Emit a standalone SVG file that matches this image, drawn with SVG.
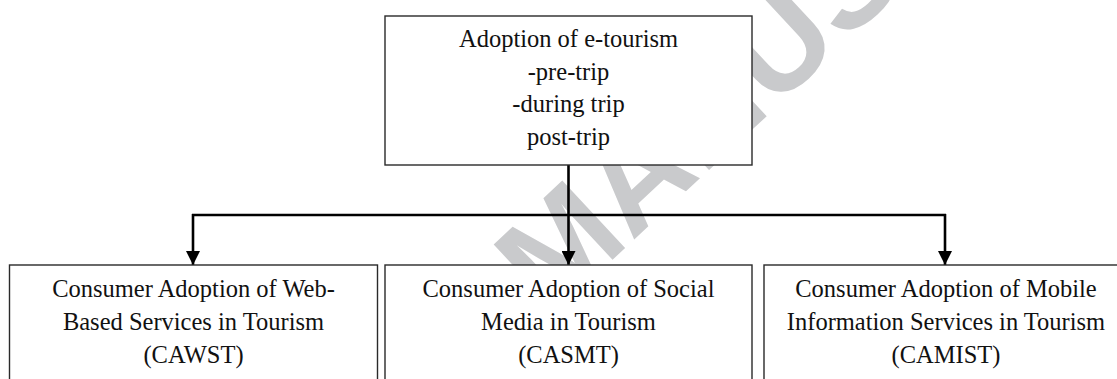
<svg xmlns="http://www.w3.org/2000/svg" width="1117" height="379" viewBox="0 0 1117 379">
  <defs>
    <style>
      .box { fill: #ffffff; stroke: #2a2a2a; stroke-width: 1.4; }
      .lbl { font-family: "Liberation Serif", "Times New Roman", serif; font-size: 24.5px; fill: #111111; text-anchor: middle; }
      .wire { fill: none; stroke: #000000; stroke-width: 2.6; }
      .wm { font-family: "Liberation Sans", Arial, sans-serif; font-weight: bold; font-size: 134px; fill: #c9cacc; }
    </style>
    <marker id="arrow" viewBox="0 0 14 14" refX="14" refY="7" markerWidth="14" markerHeight="14" markerUnits="userSpaceOnUse" orient="auto">
      <path d="M0,0 L14,7 L0,14 Z" fill="#000000"/>
    </marker>
  </defs>
  <rect width="1117" height="379" fill="#ffffff"/>
  <text class="wm" x="550" y="318" transform="rotate(-43 550 318)">MANUSCRIPT</text>

  <g id="connectors">
    <line class="wire" x1="568.5" y1="165" x2="568.5" y2="215"/>
    <line class="wire" x1="192" y1="215" x2="946" y2="215"/>
    <line class="wire" x1="193" y1="214" x2="193" y2="265" marker-end="url(#arrow)"/>
    <line class="wire" x1="568.5" y1="214" x2="568.5" y2="265" marker-end="url(#arrow)"/>
    <line class="wire" x1="945" y1="214" x2="945" y2="265" marker-end="url(#arrow)"/>
  </g>

  <g id="top">
    <rect class="box" x="385" y="16" width="367" height="149"/>
    <text class="lbl" x="568.5" y="47">Adoption of e-tourism</text>
    <text class="lbl" x="568.5" y="80">-pre-trip</text>
    <text class="lbl" x="568.5" y="112">-during trip</text>
    <text class="lbl" x="568.5" y="145">post-trip</text>
  </g>

  <g id="cawst">
    <rect class="box" x="9.5" y="265" width="368" height="130"/>
    <text class="lbl" x="193.5" y="297">Consumer Adoption of Web-</text>
    <text class="lbl" x="193.5" y="330">Based Services in Tourism</text>
    <text class="lbl" x="193.5" y="363">(CAWST)</text>
  </g>

  <g id="casmt">
    <rect class="box" x="385" y="265" width="367" height="130"/>
    <text class="lbl" x="568.5" y="297">Consumer Adoption of Social</text>
    <text class="lbl" x="568.5" y="330">Media in Tourism</text>
    <text class="lbl" x="568.5" y="363">(CASMT)</text>
  </g>

  <g id="camist">
    <rect class="box" x="764" y="265" width="364" height="130"/>
    <text class="lbl" x="946" y="297">Consumer Adoption of Mobile</text>
    <text class="lbl" x="946" y="330">Information Services in Tourism</text>
    <text class="lbl" x="946" y="363">(CAMIST)</text>
  </g>
</svg>
